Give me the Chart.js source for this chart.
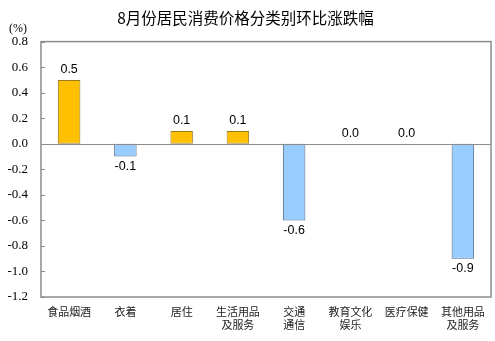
<!DOCTYPE html>
<html>
<head>
<meta charset="utf-8">
<script src="https://cdn.jsdelivr.net/npm/chart.js@4/dist/chart.umd.min.js"></script>
<style>
  html, body { margin: 0; padding: 0; background: #fff; }
  #wrap { width: 495px; height: 341px; position: relative; }
</style>
</head>
<body>
<div id="wrap"><canvas id="cpiChart" width="495" height="341"></canvas></div>
<script>
// Month-on-month change by category (%)
const categories = [
  ['食品烟酒'], ['衣着'], ['居住'], ['生活用品', '及服务'],
  ['交通', '通信'], ['教育文化', '娱乐'], ['医疗保健'], ['其他用品', '及服务']
];
const changes = [0.5, -0.1, 0.1, 0.1, -0.6, 0.0, 0.0, -0.9];
const yTicks = [0.8, 0.6, 0.4, 0.2, 0.0, -0.2, -0.4, -0.6, -0.8, -1.0, -1.2];

const upFill = '#FFC000', upLine = '#9C7A1E';
const downFill = '#99CCFF', downLine = '#4E6B8C';

// value labels above positive bars, below negative ones
const valueLabels = {
  id: 'valueLabels',
  afterDatasetsDraw(chart) {
    const ctx = chart.ctx;
    const meta = chart.getDatasetMeta(0);
    ctx.save();
    ctx.font = '12.5px "Liberation Sans", Arial, sans-serif';
    ctx.fillStyle = '#000';
    ctx.textAlign = 'center';
    meta.data.forEach((bar, i) => {
      const v = changes[i];
      if (v < 0) {
        ctx.textBaseline = 'top';
        ctx.fillText(v.toFixed(1), bar.x, bar.y + 4);
      } else {
        ctx.textBaseline = 'bottom';
        ctx.fillText(v.toFixed(1), bar.x, bar.y - 4);
      }
    });
    ctx.restore();
  }
};

// plot frame, zero line, inward ticks and the unit caption
const frame = {
  id: 'frame',
  afterDraw(chart) {
    const { ctx, chartArea: a, scales: { y } } = chart;
    ctx.save();
    ctx.strokeStyle = '#8c8c8c';
    ctx.lineWidth = 1.5;
    ctx.strokeRect(a.left, a.top, a.right - a.left, a.bottom - a.top);
    ctx.lineWidth = 1;
    yTicks.forEach(t => {
      const py = Math.round(y.getPixelForValue(t)) + 0.5;
      ctx.beginPath();
      ctx.moveTo(a.left, py);
      ctx.lineTo(a.left + 4, py);
      ctx.stroke();
    });
    const z = Math.round(y.getPixelForValue(0)) + 0.5;
    ctx.beginPath();
    ctx.moveTo(a.left, z);
    ctx.lineTo(a.right, z);
    ctx.stroke();
    ctx.fillStyle = '#000';
    ctx.font = '12px "Liberation Serif", serif';
    ctx.textAlign = 'center';
    ctx.textBaseline = 'middle';
    ctx.fillText('(%)', 18, 29);
    ctx.restore();
  }
};

new Chart(document.getElementById('cpiChart'), {
  type: 'bar',
  data: {
    labels: categories,
    datasets: [{
      data: changes,
      backgroundColor: changes.map(v => v < 0 ? downFill : upFill),
      borderColor: changes.map(v => v < 0 ? downLine : upLine),
      borderWidth: 1,
      borderSkipped: false,
      categoryPercentage: 0.8,
      barPercentage: 0.5
    }]
  },
  options: {
    responsive: false,
    animation: false,
    layout: { padding: { top: 4, right: 4, left: 0, bottom: 0 } },
    plugins: {
      legend: { display: false },
      tooltip: { enabled: false },
      title: {
        display: true,
        text: '8月份居民消费价格分类别环比涨跌幅',
        color: '#000',
        font: { family: '"Noto Sans CJK SC", sans-serif', size: 15.5, weight: 'normal' },
        padding: { top: 5, bottom: 14 }
      }
    },
    scales: {
      x: {
        grid: { display: false, drawTicks: false },
        border: { display: false },
        ticks: {
          color: '#222',
          padding: 8,
          maxRotation: 0,
          autoSkip: false,
          font: { family: '"Noto Sans CJK SC", sans-serif', size: 11 }
        },
        afterFit(s) { s.height = 44; }
      },
      y: {
        min: -1.2,
        max: 0.8,
        grid: { display: false, drawTicks: false },
        border: { display: false },
        afterBuildTicks(s) { s.ticks = yTicks.map(v => ({ value: v })); },
        ticks: {
          color: '#000',
          padding: 13,
          font: { family: '"Liberation Serif", serif', size: 13 },
          callback: v => v.toFixed(1)
        },
        afterFit(s) { s.width = 41; }
      }
    }
  },
  plugins: [valueLabels, frame]
});
</script>
</body>
</html>
